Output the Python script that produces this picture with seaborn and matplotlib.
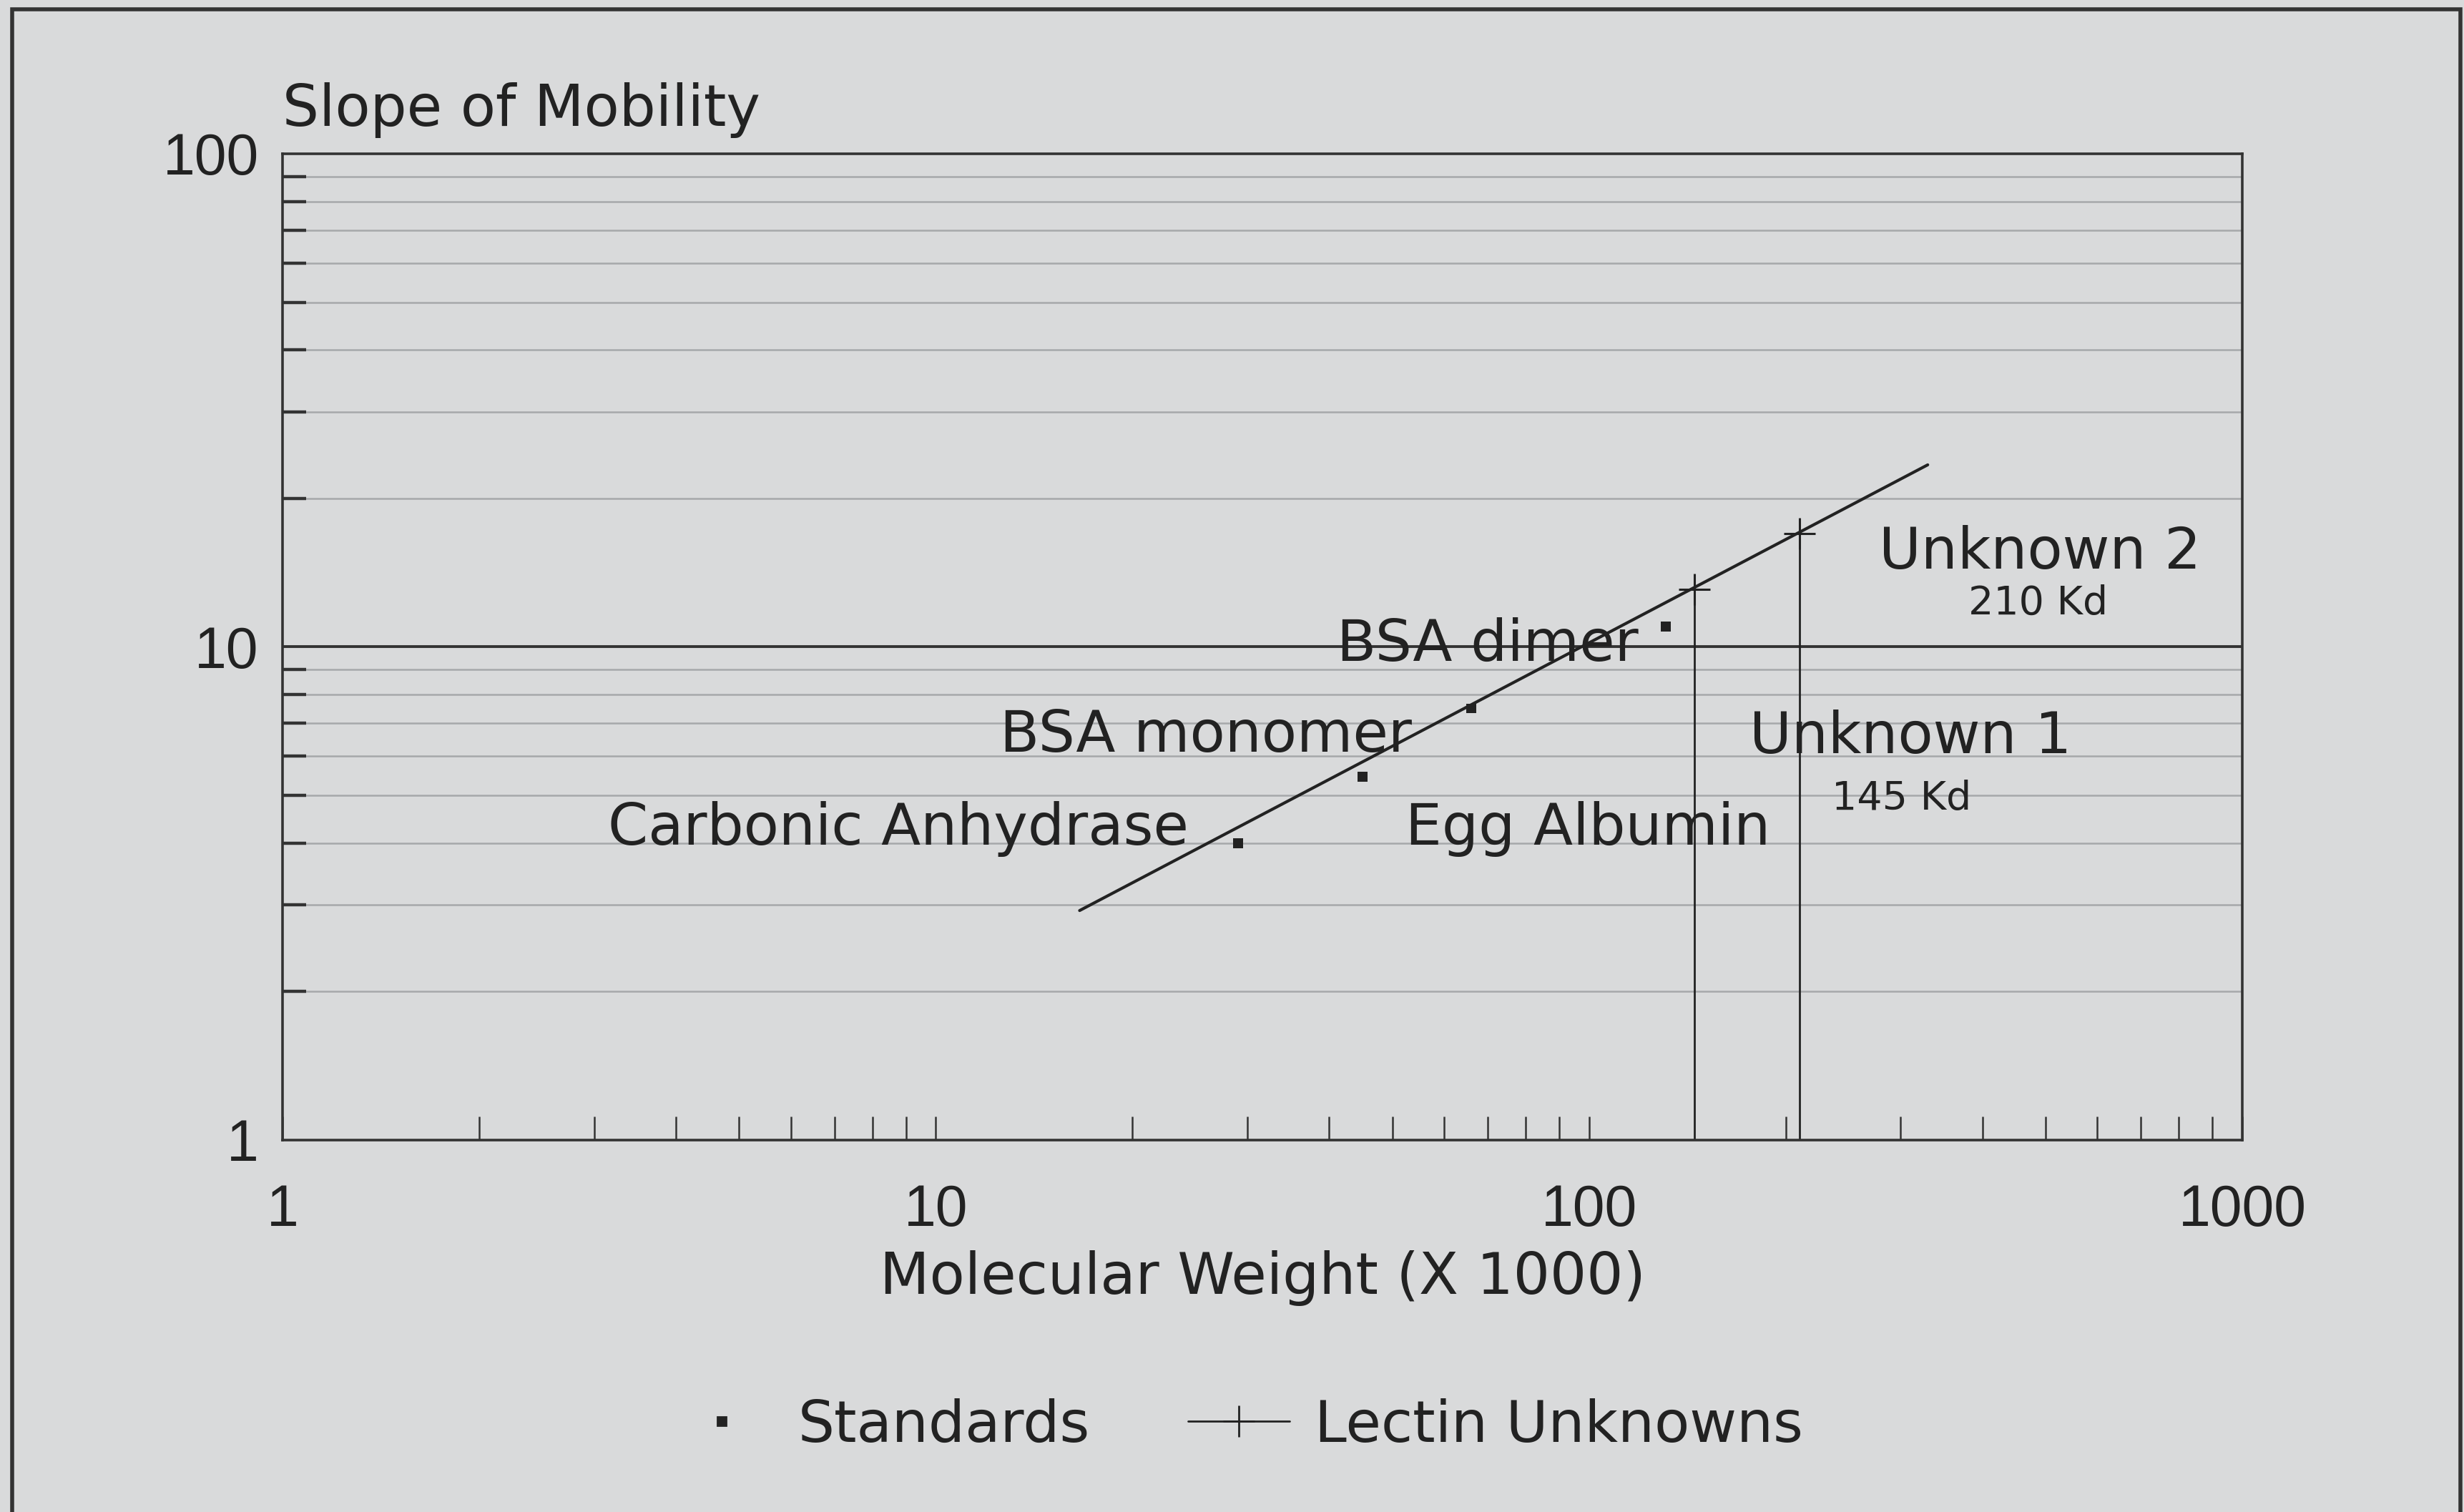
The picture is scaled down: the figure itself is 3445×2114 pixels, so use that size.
import numpy as np
import pandas as pd
import seaborn as sns
import matplotlib.pyplot as plt
from matplotlib.lines import Line2D
from matplotlib.patches import Rectangle
from matplotlib.ticker import FixedLocator, NullFormatter, FixedFormatter

# standards (small squares)
std_names = ['Carbonic Anhydrase', 'Egg Albumin', 'BSA monomer', 'BSA dimer']
std_mw = [29, 45, 66, 131]
std_slope = [4.0, 5.45, 7.5, 11.0]

# calibration line
fit_mw = [16.6, 330]
fit_slope = [2.92, 23.4]

# lectin unknowns (crosses)
unk_names = ['Unknown 1', 'Unknown 2']
unk_kd = ['145 Kd', '210 Kd']
unk_mw = [145, 210]
unk_slope = [13.1, 17.0]

x_ticks = [1, 10, 100, 1000]
y_ticks = [1, 10, 100]

bg = '#d9dadb'
ink = '#222222'

sns.set_theme(style='white', rc={'axes.facecolor': bg, 'figure.facecolor': bg})
plt.rcParams['font.family'] = ['DejaVu Sans']
num_font = ['Liberation Sans', 'DejaVu Sans']

fig = plt.figure(figsize=(17.225, 10.57), dpi=200)
ax = fig.add_axes([0.1147, 0.246, 0.7953, 0.6523])
ax.set_xscale('log')
ax.set_yscale('log')

df_std = pd.DataFrame({'mw': std_mw, 'slope': std_slope})
df_fit = pd.DataFrame({'mw': fit_mw, 'slope': fit_slope})
df_unk = pd.DataFrame({'mw': unk_mw, 'slope': unk_slope})

# light minor gridlines + dark line at 10
minor = [m * d for d in (1, 10) for m in range(2, 10)]
for v in minor:
    ax.axhline(v, color='#a6a8aa', lw=0.9, zorder=0)
ax.axhline(10, color='#333333', lw=1.4, zorder=1)

ax.vlines(unk_mw, 1, unk_slope, color=ink, lw=1.0, zorder=2)
sns.lineplot(data=df_fit, x='mw', y='slope', color=ink, lw=1.5, ax=ax, zorder=3)
sns.scatterplot(data=df_std, x='mw', y='slope', marker='s', s=24, color=ink,
                edgecolor='none', ax=ax, zorder=4, legend=False)
sns.scatterplot(data=df_unk, x='mw', y='slope', marker='+', s=250, color=ink,
                linewidth=1.1, ax=ax, zorder=4, legend=False)

ax.set_xlim(1, 1000)
ax.set_ylim(1, 100)

# text labels
fs = 29
ax.text(24.4, 4.28, 'Carbonic Anhydrase', ha='right', va='center', fontsize=fs, color=ink)
ax.text(52.3, 4.28, 'Egg Albumin', ha='left', va='center', fontsize=fs, color=ink)
ax.text(53.5, 6.6, 'BSA monomer', ha='right', va='center', fontsize=fs, color=ink)
ax.text(119, 10.1, 'BSA dimer', ha='right', va='center', fontsize=fs, color=ink)
ax.text(176, 6.55, 'Unknown 1', ha='left', va='center', fontsize=fs, color=ink)
ax.text(301, 4.92, '145 Kd', ha='center', va='center', fontsize=20, color=ink)
ax.text(278, 15.5, 'Unknown 2', ha='left', va='center', fontsize=fs, color=ink)
ax.text(487, 12.24, '210 Kd', ha='center', va='center', fontsize=20, color=ink)

# axes and ticks
for s in ax.spines.values():
    s.set_color('#333333')
    s.set_linewidth(1.3)

ax.xaxis.set_major_locator(FixedLocator(x_ticks))
ax.xaxis.set_major_formatter(FixedFormatter([str(v) for v in x_ticks]))
ax.xaxis.set_minor_locator(FixedLocator([m * d for d in (1, 10, 100) for m in range(2, 10)]))
ax.xaxis.set_minor_formatter(NullFormatter())
ax.yaxis.set_major_locator(FixedLocator(y_ticks))
ax.yaxis.set_major_formatter(FixedFormatter([str(v) for v in y_ticks]))
ax.yaxis.set_minor_locator(FixedLocator(minor))
ax.yaxis.set_minor_formatter(NullFormatter())

ax.tick_params(axis='x', which='both', direction='in', length=12, width=0.9,
               color='#333333', bottom=True, top=False)
ax.tick_params(axis='x', which='major', labelsize=29, pad=22, labelcolor=ink)
ax.tick_params(axis='y', which='minor', direction='in', length=12, width=1.6,
               color='#333333', left=True, right=False)
ax.tick_params(axis='y', which='major', length=0, labelsize=29, pad=12, labelcolor=ink)
for lab in ax.get_xticklabels() + ax.get_yticklabels():
    lab.set_fontfamily(num_font)

ax.set_xlabel('Molecular Weight (X 1000)', fontsize=29, color=ink, labelpad=6)
ax.set_ylabel('')
ax.set_title('Slope of Mobility', loc='left', fontsize=29, color=ink, pad=14)

handles = [
    Line2D([], [], marker='s', color=ink, linestyle='none', markersize=4.5),
    Line2D([], [], marker='+', color=ink, lw=1.0, markersize=16, markeredgewidth=1.0),
]
fig.legend(handles, ['Standards', 'Lectin Unknowns'], loc='center',
           bbox_to_anchor=(0.502, 0.057), ncol=2, frameon=False, fontsize=29,
           handlelength=1.77, handletextpad=0.43, columnspacing=1.7,
           labelcolor=ink)

# outer frame around the figure
fig.patches.append(Rectangle((0.005, -0.01), 0.9935, 1.004, transform=fig.transFigure,
                             fill=False, lw=2.0, edgecolor='#333333'))

fig.savefig('out.png', dpi=200, facecolor=bg)
